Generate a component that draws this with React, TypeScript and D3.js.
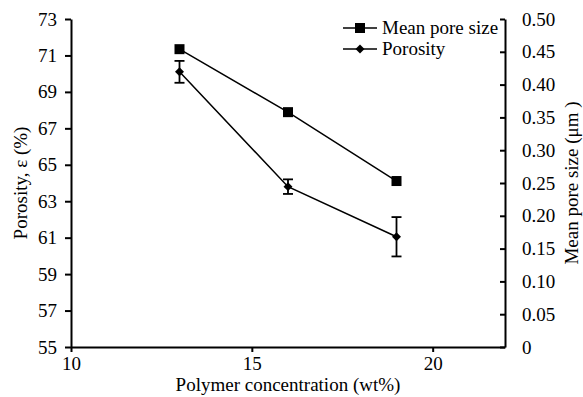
import React, { useEffect, useRef } from 'react';
import * as d3 from 'd3';

const concentration = [13, 16, 19];
const poreSize = [0.454, 0.358, 0.253];
const porosity = [70.1, 63.8, 61.05];
const porosityErr = [0.6, 0.4, 1.08];

const leftTicks = [55, 57, 59, 61, 63, 65, 67, 69, 71, 73];
const rightTicks = [0, 0.05, 0.1, 0.15, 0.2, 0.25, 0.3, 0.35, 0.4, 0.45, 0.5];
const xTicks = [10, 15, 20];

const W = 583;
const H = 397;
const font = '"Liberation Serif", "Times New Roman", serif';

const App = () => {
  const ref = useRef<SVGSVGElement>(null);

  useEffect(() => {
    const svg = d3.select(ref.current);
    svg.selectAll('*').remove();

    const margin = { top: 19, right: 78, bottom: 50, left: 71 };

    const x = d3.scaleLinear().domain([10, 22]).range([margin.left, W - margin.right]);
    const yL = d3.scaleLinear().domain([55, 73]).range([H - margin.bottom, margin.top]);
    const yR = d3.scaleLinear().domain([0, 0.5]).range([H - margin.bottom, margin.top]);

    const styleAxis = (g: any) => {
      g.selectAll('path').attr('stroke-width', 2);
      g.selectAll('line').attr('stroke-width', 2);
      g.selectAll('text').attr('font-family', font).attr('font-size', 19).attr('fill', '#000');
    };

    svg.append('g')
      .attr('transform', `translate(0,${H - margin.bottom})`)
      .call(d3.axisBottom(x).tickValues(xTicks).tickSize(5).tickSizeOuter(0).tickPadding(5))
      .call(styleAxis);

    svg.append('g')
      .attr('transform', `translate(${margin.left},0)`)
      .call(d3.axisLeft(yL).tickValues(leftTicks).tickSize(6).tickSizeOuter(0).tickPadding(8))
      .call(styleAxis);

    svg.append('g')
      .attr('transform', `translate(${W - margin.right},0)`)
      .call(d3.axisRight(yR).tickValues(rightTicks).tickSize(-5).tickSizeOuter(0).tickPadding(17)
        .tickFormat(d => (d === 0 ? '0' : d3.format('.2f')(d as number))))
      .call(styleAxis);

    // axis titles
    svg.append('text')
      .attr('transform', `translate(27,${(margin.top + H - margin.bottom) / 2}) rotate(-90)`)
      .attr('text-anchor', 'middle')
      .attr('font-family', font).attr('font-size', 19)
      .text('Porosity, ε (%)');

    svg.append('text')
      .attr('transform', `translate(578,${(margin.top + H - margin.bottom) / 2}) rotate(-90)`)
      .attr('text-anchor', 'middle')
      .attr('font-family', font).attr('font-size', 19)
      .text('Mean pore size (μm )');

    svg.append('text')
      .attr('x', (margin.left + W - margin.right) / 2)
      .attr('y', 391)
      .attr('text-anchor', 'middle')
      .attr('font-family', font).attr('font-size', 19)
      .text('Polymer concentration (wt%)');

    // pore size line
    const poreData = concentration.map((c, i) => ({ c, v: poreSize[i] }));
    svg.append('path')
      .datum(poreData)
      .attr('fill', 'none').attr('stroke', '#000').attr('stroke-width', 1.5)
      .attr('d', d3.line<any>().x(d => x(d.c)).y(d => yR(d.v)));
    svg.append('g').selectAll('rect')
      .data(poreData)
      .join('rect')
      .attr('x', d => x(d.c) - 5).attr('y', d => yR(d.v) - 5)
      .attr('width', 10).attr('height', 10)
      .attr('fill', '#000');

    // porosity line with error bars
    const porData = concentration.map((c, i) => ({ c, v: porosity[i], e: porosityErr[i] }));
    svg.append('path')
      .datum(porData)
      .attr('fill', 'none').attr('stroke', '#000').attr('stroke-width', 1.5)
      .attr('d', d3.line<any>().x(d => x(d.c)).y(d => yL(d.v)));

    const eb = svg.append('g').attr('stroke', '#000').attr('stroke-width', 1.8);
    porData.forEach(d => {
      const cx = x(d.c);
      eb.append('line').attr('x1', cx).attr('x2', cx).attr('y1', yL(d.v - d.e)).attr('y2', yL(d.v + d.e));
      eb.append('line').attr('x1', cx - 5).attr('x2', cx + 5).attr('y1', yL(d.v - d.e)).attr('y2', yL(d.v - d.e));
      eb.append('line').attr('x1', cx - 5).attr('x2', cx + 5).attr('y1', yL(d.v + d.e)).attr('y2', yL(d.v + d.e));
    });

    // symmetric diamond: square rotated 45 degrees
    const diamond = d3.symbol().type(d3.symbolSquare).size(40);
    svg.append('g').selectAll('path')
      .data(porData)
      .join('path')
      .attr('transform', d => `translate(${x(d.c)},${yL(d.v)}) rotate(45)`)
      .attr('d', diamond)
      .attr('fill', '#000');

    // legend
    const legend = svg.append('g').attr('font-family', font).attr('font-size', 19);
    const items = [
      { label: 'Mean pore size', shape: 'square', y: 28 },
      { label: 'Porosity', shape: 'diamond', y: 49 },
    ];
    items.forEach(it => {
      legend.append('line')
        .attr('x1', 343).attr('x2', 377).attr('y1', it.y).attr('y2', it.y)
        .attr('stroke', '#000').attr('stroke-width', 1.5);
      if (it.shape === 'square') {
        legend.append('rect').attr('x', 355).attr('y', it.y - 5).attr('width', 10).attr('height', 10).attr('fill', '#000');
      } else {
        legend.append('path').attr('transform', `translate(360,${it.y}) rotate(45)`).attr('d', diamond).attr('fill', '#000');
      }
      legend.append('text').attr('x', 382).attr('y', it.y + 6).text(it.label);
    });
  }, []);

  return <svg ref={ref} width={W} height={H} style={{ display: 'block', position: 'absolute', left: 0, top: 0 }} />;
};

export default App;
